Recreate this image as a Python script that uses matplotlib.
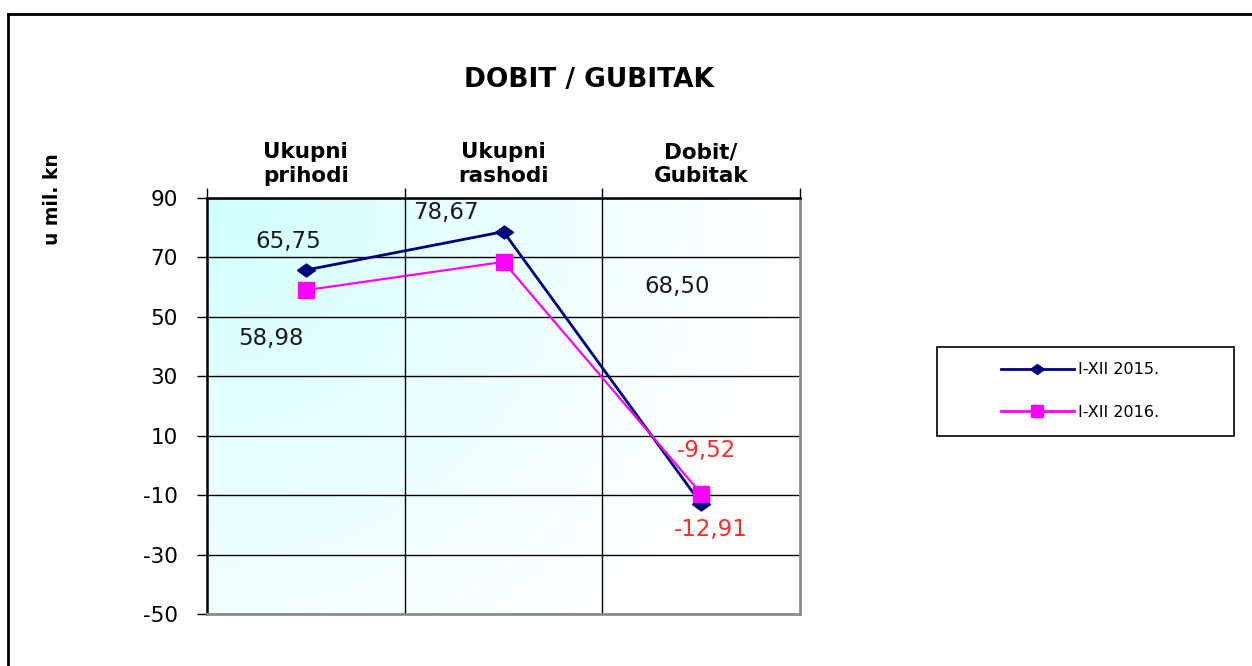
import numpy as np
import matplotlib
matplotlib.use('Agg')
import matplotlib.pyplot as plt
from matplotlib.lines import Line2D
from matplotlib.patches import Rectangle

# data
categories = ['Ukupni\nprihodi', 'Ukupni\nrashodi', 'Dobit/\nGubitak']
vals_2015 = [65.75, 78.67, -12.91]
vals_2016 = [58.98, 68.50, -9.52]
series_names = ['I-XII 2015.', 'I-XII 2016.']
label_2015 = ['65,75', '78,67', '-12,91']
label_2016 = ['58,98', '68,50', '-9,52']
yticks = [90, 70, 50, 30, 10, -10, -30, -50]

W, H = 1252, 666
fig = plt.figure(figsize=(W / 100, H / 100), dpi=100)
fig.patch.set_facecolor('white')

# plot area in pixels: x 207..800, y 198..614
ax = fig.add_axes([207 / W, 1 - 614 / H, (800 - 207) / W, (614 - 198) / H])
ax.set_xlim(0, 3)
ax.set_ylim(-50, 90)

# gradient background, cyan from the upper left corner
gx, gy = np.meshgrid(np.linspace(0, 1, 300), np.linspace(0, 1, 300))
t = np.clip(np.sqrt((gx * 1.35) ** 2 + (gy * 0.95) ** 2) / 1.35, 0, 1) ** 0.75
img = np.zeros((300, 300, 3))
img[..., 0] = 0.80 + 0.20 * t
img[..., 1] = 1.0
img[..., 2] = 1.0
ax.imshow(img, extent=[0, 3, -50, 90], origin='upper', aspect='auto', zorder=0)

# grid
for yv in yticks:
    ax.axhline(yv, color='black', lw=1.0, zorder=1)
for xv in [1, 2]:
    ax.axvline(xv, color='black', lw=1.0, zorder=1)

xpos = np.arange(len(categories)) + 0.5
diamond = [(-1, 0), (0, 0.72), (1, 0), (0, -0.72), (-1, 0)]
ax.plot(xpos, vals_2015, color='#000080', lw=2.0, marker=diamond, ms=13,
        zorder=3, label=series_names[0])
ax.plot(xpos, vals_2016, color='#FF00FF', lw=1.6, marker='s', ms=11.5,
        zorder=4, label=series_names[1])

# data labels (offsets in pixels from the point)
off_2015 = [(-18, 29), (-58, 19), (10, -26)]
off_2016 = [(-35, -48), (174, -25), (5, 43)]
col_2015 = ['#1a1a1a', '#1a1a1a', '#ff2a2a']
col_2016 = ['#1a1a1a', '#1a1a1a', '#ff2a2a']
for i in range(3):
    ax.annotate(label_2015[i], (xpos[i], vals_2015[i]), xytext=off_2015[i],
                textcoords='offset pixels', ha='center', va='center',
                fontsize=16.5, color=col_2015[i], family='DejaVu Sans', zorder=5)
    ax.annotate(label_2016[i], (xpos[i], vals_2016[i]), xytext=off_2016[i],
                textcoords='offset pixels', ha='center', va='center',
                fontsize=16.5, color=col_2016[i], family='DejaVu Sans', zorder=5)

# axes styling
ax.set_yticks(yticks)
ax.set_yticklabels([str(v) for v in yticks], fontsize=15.5, family='DejaVu Sans')
ax.tick_params(axis='y', direction='out', length=7, width=1, pad=14, colors='black')
ax.xaxis.tick_top()
ax.set_xticks([0, 1, 2, 3])
ax.set_xticklabels([])
ax.tick_params(axis='x', which='major', direction='out', length=7, width=1)
ax.set_xticks(xpos, minor=True)
ax.set_xticklabels(categories, minor=True, fontsize=15.5, fontweight='bold',
                   family='DejaVu Sans', linespacing=1.2)
ax.tick_params(axis='x', which='minor', length=0, pad=9)
for side in ['left', 'top']:
    ax.spines[side].set_color('black')
    ax.spines[side].set_linewidth(1.8)
for side in ['right', 'bottom']:
    ax.spines[side].set_color('#8c8c8c')
    ax.spines[side].set_linewidth(2.0)

# title and axis label
fig.text(589 / W, 1 - 80 / H, 'DOBIT / GUBITAK', ha='center', va='center',
         fontsize=19, fontweight='bold', family='DejaVu Sans')
fig.text(52 / W, 1 - 199 / H, 'u mil. kn', ha='center', va='center', rotation=90,
         fontsize=13.5, fontweight='bold', family='DejaVu Sans')

# legend box
fig.patches.append(Rectangle((937 / W, 1 - 436 / H), (1234 - 937) / W, (436 - 347) / H,
                             transform=fig.transFigure, facecolor='white',
                             edgecolor='black', lw=1.2))
handles = [Line2D([], [], color='#000080', lw=2.0, marker=diamond, ms=10),
           Line2D([], [], color='#FF00FF', lw=2.0, marker='s', ms=8)]
fig.legend(handles, series_names, loc='center', bbox_to_anchor=(1080 / W, 1 - 391 / H),
           frameon=False, handlelength=4.6, labelspacing=1.7, handletextpad=0.25,
           prop={'family': 'DejaVu Sans', 'size': 11.5})

# outer frame (top and left only visible)
fig.add_artist(Line2D([8 / W, 8 / W], [0, 1 - 14 / H], transform=fig.transFigure,
                      color='black', lw=2))
fig.add_artist(Line2D([8 / W, 1], [1 - 14 / H, 1 - 14 / H], transform=fig.transFigure,
                      color='black', lw=2))

fig.savefig('out.png', dpi=100)
